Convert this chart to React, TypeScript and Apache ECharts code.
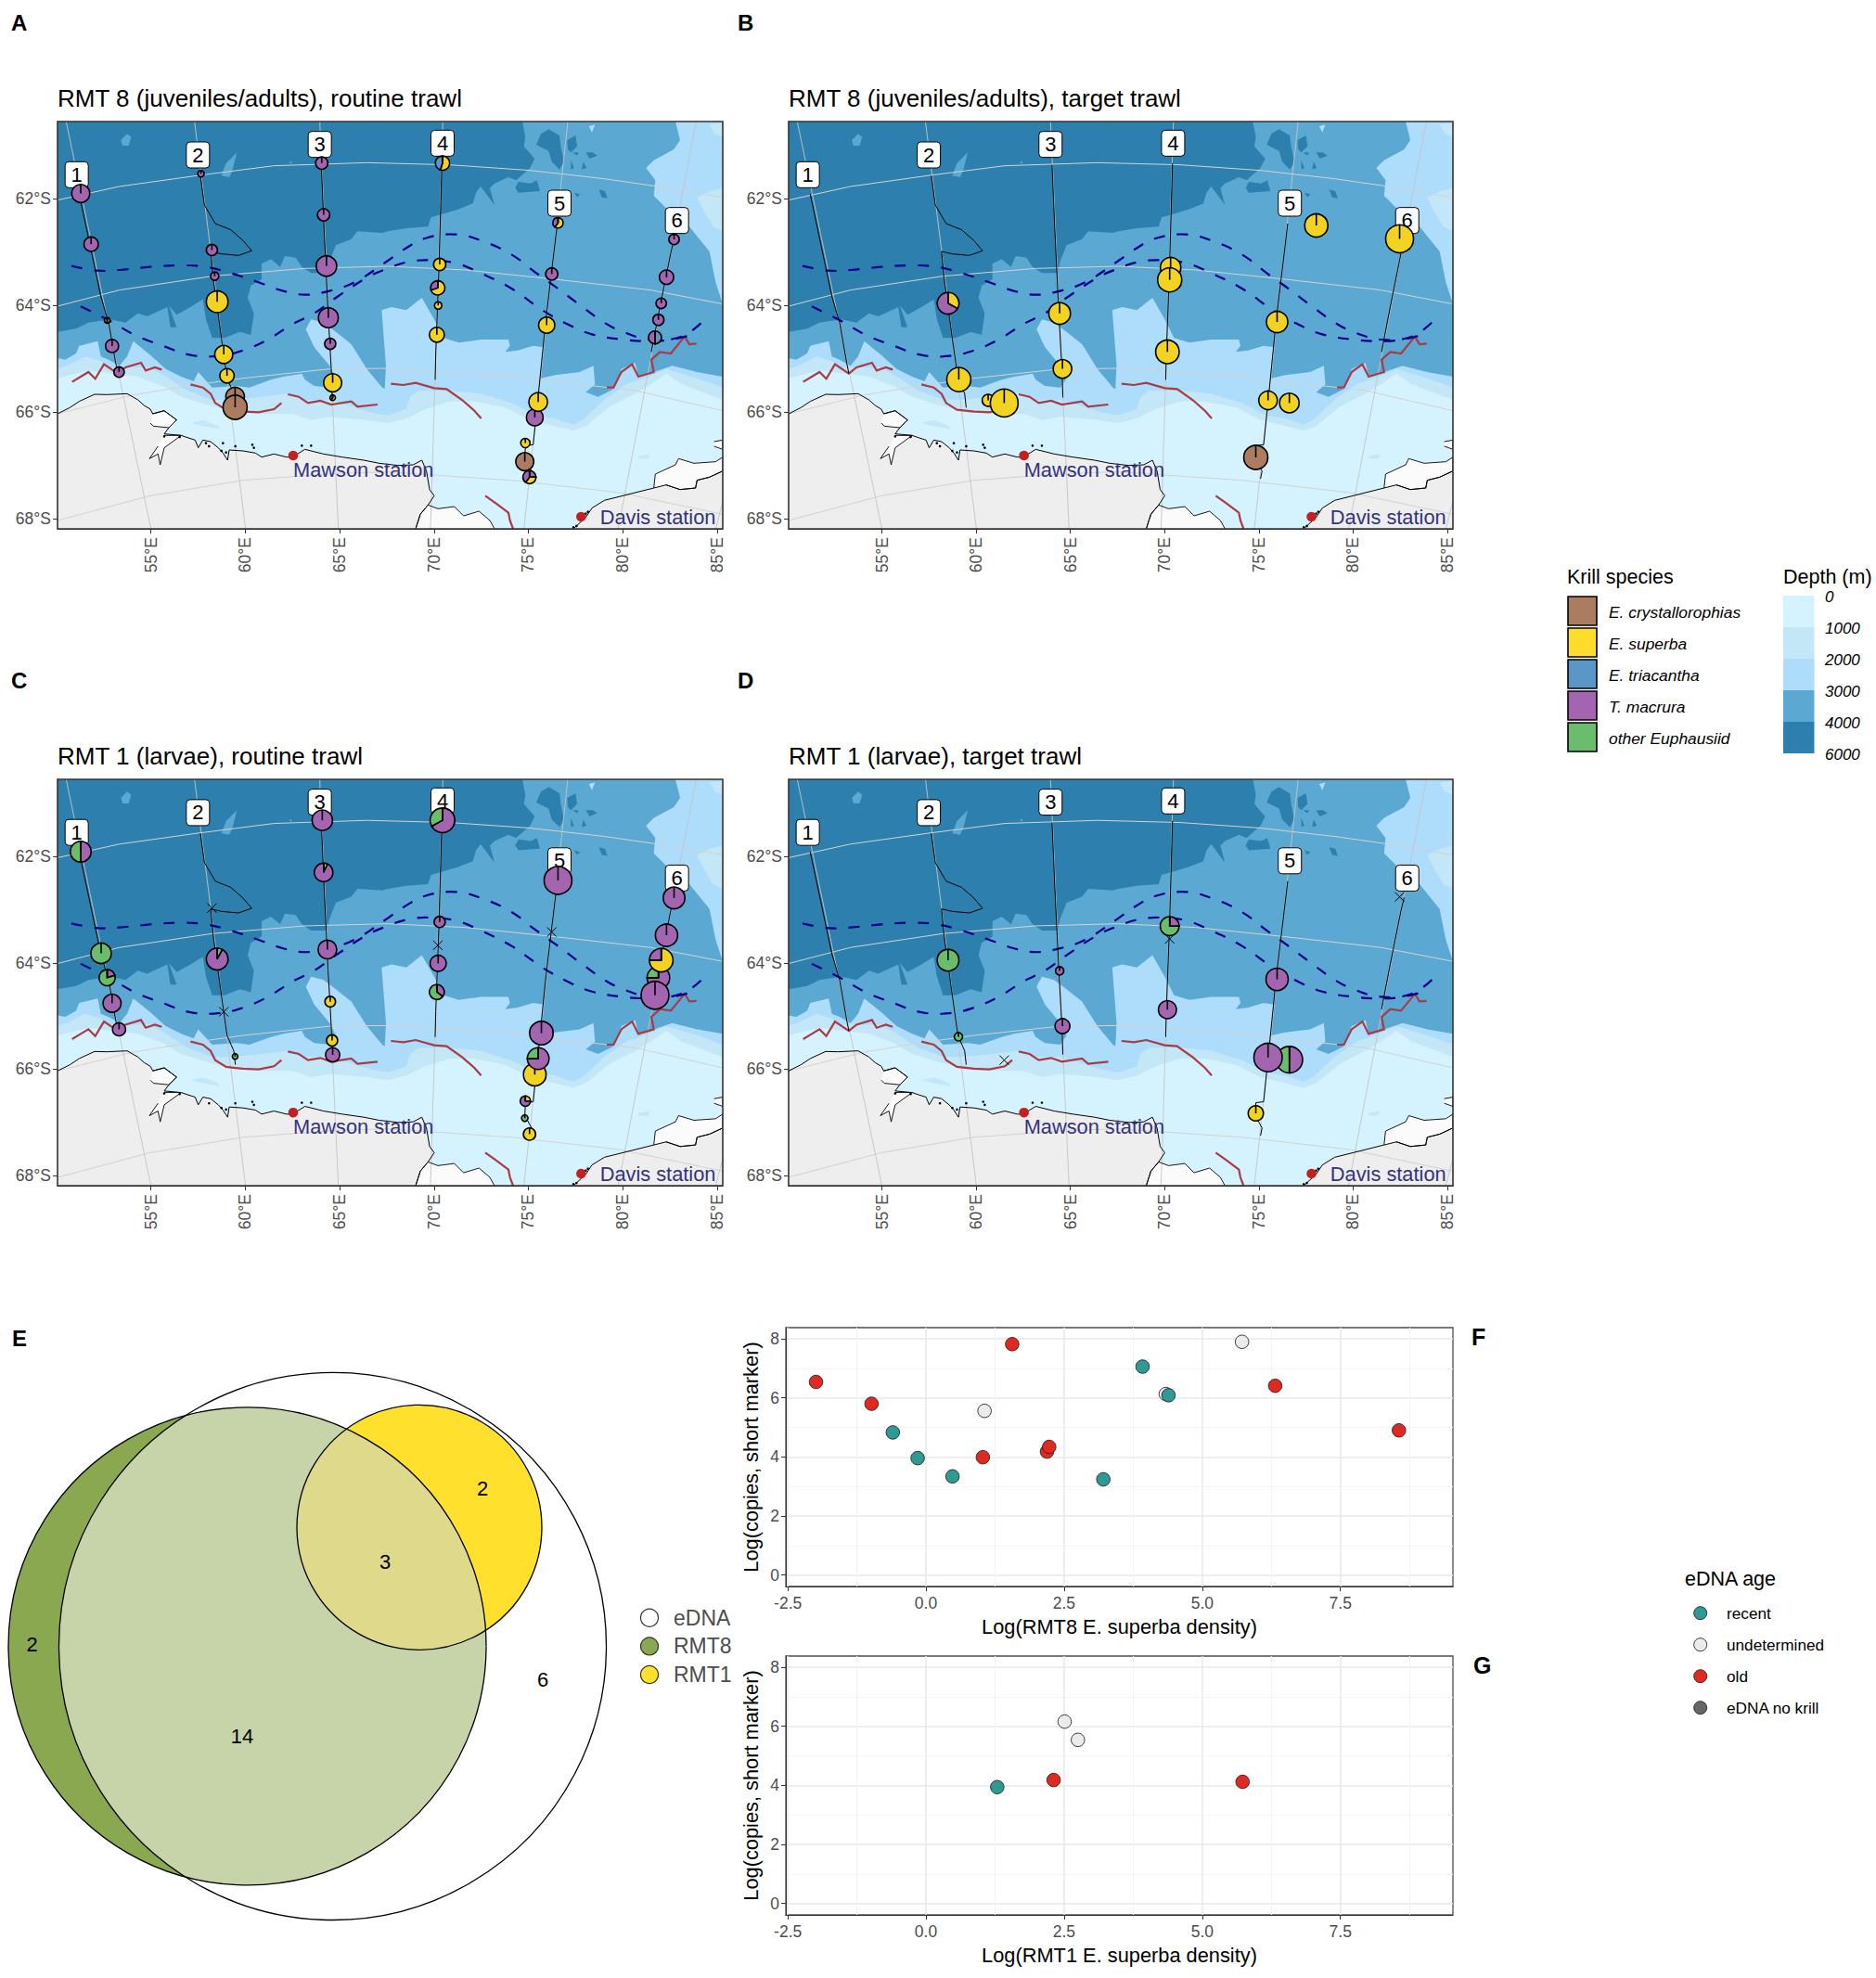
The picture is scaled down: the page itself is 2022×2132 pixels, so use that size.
import { useEffect, useRef } from "react";
import * as echarts from "echarts";

const FONT = "Liberation Sans";

// species codes used in the station tables
const C = 0, S = 1, T = 2, M = 3, O = 4;
const speciesNames = ["E. crystallorophias", "E. superba", "E. triacantha", "T. macrura", "other Euphausiid"];
const speciesColors = ["#ab7c5f", "#f2d321", "#5b96c8", "#a364b0", "#69bd6d"];
const depthLabels = ["0", "1000", "2000", "3000", "4000", "6000"];
const depthColors = ["#d5f2ff", "#c4e7f8", "#aedcfb", "#5ba9d2", "#2d80ae"];

const lonTicks = [55, 60, 65, 70, 75, 80, 85];
const latTicks = [-68, -66, -64, -62];

// stations: lon, lat, marker radius, then species/share pairs clockwise from north
type Station = [number, number, number, ...number[]];

const stationsA: Station[] = [
  [51.28, -61.9, 9.7, M, 1], [51.83, -62.85, 7.7, M, 1], [52.68, -64.28, 3, S, 0.5, M, 0.5], [52.94, -64.76, 7, M, 1], [53.31, -65.25, 5.6, M, 1],
  [57.65, -61.53, 3.5, M, 1], [58.23, -62.96, 6, M, 1], [58.38, -63.45, 4.5, M, 1], [58.51, -63.93, 11.7, S, 1], [58.86, -64.92, 9.7, S, 1], [59.03, -65.32, 7.7, S, 1],
  [59.46, -65.71, 10, C, 1], [59.46, -65.91, 13, C, 1],
  [64.05, -61.33, 6.6, M, 1], [64.15, -62.3, 6.6, M, 1], [64.3, -63.26, 11, M, 1], [64.4, -64.23, 10.7, M, 1], [64.5, -64.72, 6, M, 1], [64.63, -65.45, 9.7, S, 1], [64.63, -65.73, 3, S, 0.6, M, 0.4],
  [70.45, -61.33, 7.7, S, 0.55, T, 0.45], [70.3, -63.23, 6.6, S, 1], [70.2, -63.67, 7.7, S, 0.7, M, 0.3], [70.22, -64, 4, S, 1], [70.15, -64.55, 8, S, 1],
  [76.57, -62.45, 5.6, S, 0.6, M, 0.4], [76.24, -63.41, 6.6, M, 1], [75.97, -64.37, 8.7, S, 1], [75.34, -66.1, 9, M, 1], [75.52, -65.81, 10, S, 1], [74.84, -66.58, 5, S, 1], [74.81, -66.93, 9.7, C, 1], [75.06, -67.22, 7, M, 0.25, S, 0.35, M, 0.4],
  [82.72, -62.76, 5.6, M, 1], [82.32, -63.47, 7.7, M, 1], [82.04, -63.96, 5.6, M, 1], [81.89, -64.27, 6, M, 1], [81.71, -64.6, 7, T, 0.5, M, 0.5],
];

const stationsB: Station[] = [
  [58.51, -63.96, 11.7, S, 0.33, M, 0.67], [59.08, -65.39, 13, S, 1], [60.64, -65.78, 6.5, S, 1], [61.49, -65.83, 15, S, 1],
  [64.43, -64.15, 11.7, S, 1], [64.58, -65.19, 10, S, 1],
  [70.32, -63.29, 11, S, 1], [70.27, -63.52, 13, S, 1], [70.15, -64.87, 12.7, S, 1],
  [75.97, -64.31, 11.5, S, 1], [75.49, -65.78, 10, S, 1], [76.62, -65.83, 10.5, S, 1], [74.84, -66.85, 13, C, 1],
  [78.05, -62.5, 12.5, S, 1], [82.47, -62.75, 15, S, 1],
];

const stationsC: Station[] = [
  [51.28, -61.91, 11.2, M, 0.5, O, 0.5], [52.36, -63.82, 11, O, 1], [52.68, -64.28, 8.7, M, 0.2, O, 0.8], [52.94, -64.76, 9.7, M, 1], [53.31, -65.25, 7, M, 1],
  [58.51, -63.93, 11.7, O, 0.08, M, 0.92], [59.46, -65.76, 3, O, 1],
  [64.08, -61.32, 11, M, 1], [64.15, -62.3, 10, S, 0.07, M, 0.93], [64.35, -63.75, 10, M, 1], [64.5, -64.73, 5.7, S, 1], [64.6, -65.46, 6, S, 1], [64.63, -65.73, 7.6, M, 1],
  [70.45, -61.32, 13.3, M, 0.67, O, 0.33], [70.3, -63.23, 6, M, 1], [70.22, -64.01, 8.7, M, 1], [70.15, -64.55, 8, M, 0.35, O, 0.65],
  [76.57, -62.45, 15, M, 1], [75.69, -65.32, 12.7, M, 1], [75.34, -66.1, 12.2, S, 1], [75.52, -65.8, 11.7, M, 0.75, O, 0.25], [74.84, -66.6, 5.6, S, 0.25, M, 0.75], [74.81, -66.92, 3.5, O, 1], [75.06, -67.22, 6.6, S, 1],
  [82.72, -62.78, 11.7, M, 1], [82.32, -63.48, 12, M, 1], [81.89, -64.28, 12.2, M, 0.75, O, 0.25], [82.04, -63.95, 12.7, S, 0.75, M, 0.25], [81.71, -64.61, 15, M, 1],
];

const stationsD: Station[] = [
  [58.51, -63.95, 11.7, O, 1], [59.06, -65.39, 4.5, O, 1],
  [64.43, -64.15, 4.5, M, 1], [64.58, -65.19, 8, M, 1],
  [70.27, -63.31, 10.2, M, 0.25, O, 0.75], [70.15, -64.88, 9.7, M, 1],
  [75.97, -64.31, 12, M, 1], [76.62, -65.82, 14.3, M, 0.5, O, 0.5], [75.49, -65.78, 15.3, M, 1], [74.84, -66.83, 8.2, S, 1],
];

// empty hauls, drawn as crosses
const crossesC = [[58.23, -62.97], [58.86, -64.92], [70.2, -63.67], [76.24, -63.42]];
const crossesD = [[61.49, -65.83], [70.27, -63.55], [82.47, -62.76]];

// base map, digitised on a 2151 x 1317 plate of the map frame
const deepShelf = [[1503,0],[1513,50],[1508,80],[1543,120],[1528,150],[1483,190],[1458,180],[1413,200],[1398,215],[1413,270],[1398,250],[1368,210],[1353,230],[1343,265],[1293,285],[1208,310],[1198,340],[1128,345],[1068,355],[1050,360],[970,355],[950,380],[900,400],[880,450],[870,490],[820,490],[790,470],[770,440],[735,435],[720,470],[690,445],[660,460],[660,510],[625,530],[615,570],[635,620],[625,690],[590,680],[540,700],[500,700],[480,640],[470,575],[430,600],[385,625],[360,595],[385,665],[365,665],[355,600],[290,630],[260,620],[220,650],[170,640],[100,650],[60,670],[0,680],[0,1317],[2151,1317],[2151,0]];
const deepIslands = [
  [[1563,40],[1588,25],[1623,45],[1628,85],[1638,130],[1623,155],[1598,130],[1588,95],[1548,75]],
  [[1648,60],[1675,45],[1680,80],[1660,100],[1650,90]],
  [[1665,100],[1685,100],[1680,110]],
  [[1700,130],[1710,150],[1695,155]],
  [[1660,125],[1670,150],[1660,155]],
  [[1708,100],[1730,100],[1745,110],[1720,120]],
  [[1490,195],[1530,200],[1550,190],[1560,225],[1490,230],[1480,215]],
  [[1750,220],[1770,225],[1778,248],[1760,245]],
  [[1670,230],[1690,235],[1680,245]],
];
const midIslands = [
  [[205,60],[225,40],[238,50],[230,78],[210,78]],
  [[530,175],[545,135],[580,100],[565,160],[555,180]],
  [[748,130],[758,130],[755,138]],
];
const slopeMain = [[0,765],[25,770],[60,750],[70,725],[130,710],[140,760],[165,770],[200,790],[225,760],[245,710],[300,755],[350,800],[400,825],[440,840],[455,810],[500,860],[580,855],[620,860],[690,835],[730,825],[790,815],[800,835],[830,855],[880,860],[900,830],[880,790],[830,730],[803,672],[820,640],[860,650],[900,680],[950,720],[1000,800],[1050,860],[1058,865],[1062,790],[1048,610],[1080,600],[1128,610],[1178,570],[1218,640],[1248,700],[1298,715],[1368,705],[1458,705],[1463,725],[1448,745],[1488,740],[1538,725],[1573,730],[1563,830],[1608,820],[1688,810],[1733,790],[1738,850],[1708,875],[1748,890],[1798,865],[1823,800],[1868,780],[1878,825],[1928,810],[1988,790],[2068,810],[2151,825],[2151,1317],[0,1317]];
const slopeCorner = [[1998,0],[2013,60],[1993,90],[1928,125],[1903,150],[1933,190],[1928,240],[1968,280],[2043,340],[2108,420],[2128,520],[2151,590],[2151,0]];
const slopeIsland = [[1718,15],[1738,10],[1728,35]];
const shelfOuter = [[0,800],[40,785],[90,760],[140,775],[170,795],[300,795],[350,825],[420,870],[500,900],[560,900],[660,890],[740,880],[800,900],[880,900],[950,920],[1010,940],[1068,950],[1128,930],[1140,890],[1168,870],[1268,870],[1368,880],[1468,910],[1548,950],[1608,960],[1668,980],[1698,965],[1768,900],[1838,850],[1898,830],[1968,800],[2068,830],[2151,860],[2151,1317],[0,1317]];
const shelfOuterPatches = [
  [[2068,245],[2110,225],[2151,215],[2151,355],[2120,340],[2090,290]],
  [[2108,10],[2151,5],[2151,50],[2125,40]],
  [[430,975],[470,965],[520,985],[525,995],[470,985]],
  [[1878,1082],[1915,1075],[1910,1090],[1880,1090]],
];
const shelfInner = [[0,830],[100,805],[180,815],[260,825],[340,855],[400,890],[480,915],[560,935],[660,945],[760,945],[820,965],[880,955],[1000,965],[1068,975],[1128,960],[1188,930],[1268,905],[1348,905],[1448,925],[1528,965],[1608,985],[1668,1000],[1708,985],[1788,920],[1868,880],[1918,850],[1968,815],[2018,850],[2151,900],[2151,1317],[0,1317]];

const coastWest = [[0,945],[40,925],[70,905],[120,882],[160,883],[225,880],[260,900],[280,918],[300,930],[308,945],[345,935],[385,965],[360,990],[345,1010],[400,1015],[420,1022],[445,1030],[455,1055],[470,1030],[495,1035],[520,1055],[535,1072],[550,1095],[555,1062],[600,1065],[640,1072],[660,1085],[700,1075],[740,1085],[760,1085],[800,1060],[860,1075],[920,1085],[990,1095],[1040,1105],[1100,1112],[1150,1110],[1178,1095],[1193,1130],[1203,1190],[1218,1210],[1198,1240],[1173,1270],[1158,1317]];
const coastEast = [[1668,1317],[1708,1280],[1728,1250],[1768,1225],[1848,1205],[1928,1185],[1968,1175],[2013,1190],[2063,1185],[2068,1160],[2108,1150],[2151,1130]];
const iceShelves = [
  [[308,945],[345,935],[385,965],[360,990],[310,985],[300,975]],
  [[345,1015],[400,1015],[345,1055],[332,1110],[325,1075],[297,1090],[325,1050]],
  [[1158,1317],[1173,1270],[1198,1240],[1230,1252],[1283,1245],[1313,1275],[1363,1260],[1398,1290],[1413,1317]],
  [[1928,1185],[1933,1140],[1998,1110],[2008,1090],[2058,1105],[2128,1100],[2151,1085],[2151,1130],[2108,1150],[2068,1160],[2063,1185],[2013,1190],[1968,1175]],
  [[2123,1035],[2151,1030],[2151,1060],[2123,1050]],
];
const islets = [[535,1040],[575,1050],[630,1045],[635,1055],[790,1048],[820,1048],[395,1020],[345,1018],[530,1065],[545,1070],[480,1040],[490,1050],[1708,1268],[1715,1262],[1668,1312],[1678,1308]];

const fronts = [
  [[47,842],[75,825],[100,810],[122,832],[150,785],[195,815],[220,795],[270,780],[285,805],[315,795],[337,802]],
  [[430,850],[470,860],[495,880],[510,910],[545,932],[600,938],[650,940],[700,930],[724,910]],
  [[745,882],[780,890],[810,910],[850,903],[885,915],[950,905],[970,922],[1035,915]],
  [[1078,848],[1118,852],[1158,845],[1218,862],[1258,865],[1308,900],[1348,935],[1370,960]],
  [[1776,860],[1798,860],[1823,810],[1858,785],[1878,825],[1928,810],[1920,770],[1948,745],[1983,750],[2028,695],[2043,720],[2066,718]],
  [[1383,1210],[1418,1235],[1458,1265],[1463,1290],[1473,1317]],
];
const jetUpper = [[45,467],[130,482],[200,480],[300,470],[400,465],[480,470],[560,490],[650,520],[730,548],[800,560],[870,550],[960,520],[1068,450],[1118,415],[1188,378],[1288,365],[1378,388],[1468,430],[1548,490],[1618,540],[1698,600],[1768,650],[1828,680],[1918,705],[2018,695],[2088,645]];
const jetLower = [[75,598],[170,645],[250,690],[340,725],[430,755],[520,758],[600,740],[680,705],[760,655],[830,620],[900,570],[1000,505],[1068,475],[1128,455],[1198,448],[1288,458],[1368,490],[1468,540],[1568,610],[1648,655],[1728,688],[1828,705],[1918,710],[1988,705],[2068,685]];

const parallels = [
  [[0,254],[200,210],[450,175],[700,143],[1000,133],[1268,140],[1528,158],[1768,185],[1928,208],[2151,245]],
  [[0,597],[200,545],[500,500],[800,475],[1068,468],[1318,480],[1608,510],[1918,545],[2151,590]],
  [[0,945],[240,885],[420,855],[600,830],[880,800],[1068,798],[1468,825],[1868,870],[2151,935]],
  [[0,1290],[300,1210],[600,1160],[900,1138],[1068,1133],[1468,1160],[1818,1200],[2151,1270]],
];
const meridians = [
  [[28,0],[302,1317]], [[443,0],[608,1317]], [[848,0],[908,1317]], [[1246,0],[1206,1317]],
  [[1650,0],[1508,1317]], [[2065,0],[1813,1317]], [[2151,1229],[2128,1317]],
];

// trawl transects
const transects = [
  [[70,235],[105,400],[140,565],[165,650],[190,790],[195,815]],
  [[462,175],[475,270],[510,330],[560,350],[600,385],[628,418],[585,433],[530,428],[495,420],[505,520],[515,590],[530,700],[548,830],[570,880],[575,925]],
  [[853,140],[862,350],[875,620],[885,800],[888,892]],
  [[1243,135],[1233,480],[1223,750],[1221,835]],
  [[1616,330],[1578,650],[1553,900],[1538,1045],[1513,1048],[1511,1090],[1533,1130],[1528,1155]],
  [[1993,383],[1983,425],[1948,600],[1920,745]],
];
const transectLabels = [[62,172],[454,108],[848,74],[1245,70],[1623,264],[2003,320]];
const stationNames = ["Mawson station", "Davis station"];
const stationDots = [[762,1080],[1693,1278]];
const stationTextAt = [[762,1125],[1754,1280]];

// scatter panels: density, copies
const scatterF = {
  recent: [[-0.6, 4.83], [-0.15, 3.96], [0.48, 3.34], [3.21, 3.24], [3.92, 7.06], [4.39, 6.09]],
  undetermined: [[1.06, 5.56], [4.34, 6.13], [5.72, 7.9]],
  old: [[-1.99, 6.54], [-0.985, 5.8], [1.56, 7.82], [1.03, 3.99], [2.19, 4.18], [2.23, 4.34], [6.32, 6.41], [8.56, 4.9]],
};
const scatterG = {
  recent: [[1.29, 3.94]],
  undetermined: [[2.51, 6.16], [2.75, 5.54]],
  old: [[2.31, 4.18], [5.73, 4.12]],
};
const ageNames = ["recent", "undetermined", "old", "eDNA no krill"];
const ageColors = ["#2e9a94", "#ebebeb", "#e12a1f", "#666666"];

// venn: centre x, centre y, radius
const vennEdna = [358.5, 374.5, 295];
const vennRmt8 = [266.5, 374.4, 257.5];
const vennRmt1 = [452, 246.3, 132];
const vennCounts = [[34.7, 372.8, "2"], [261, 471, "14"], [415, 283.5, "3"], [520, 204, "2"], [585, 410.7, "6"]];
const vennNames = ["eDNA", "RMT8", "RMT1"];
const vennColors = ["#ffffff", "#8aa850", "#ffe02d"];

const LON0 = 50.05, LON1 = 85.3, LAT0 = -60.55, LAT1 = -68.19;
const toGeo = ([u, v]: number[]) => [LON0 + (u / 2151) * (LON1 - LON0), LAT0 + (v / 1317) * (LAT1 - LAT0)];

function baseMapItem(_: any, api: any) {
  const pts = (list: number[][]) => list.map((p) => api.coord(toGeo(p)));
  const fill = (list: number[][], color: string) => ({ type: "polygon", silent: true, shape: { points: pts(list) }, style: { fill: color } });
  const line = (list: number[][], stroke: string, lineWidth: number, extra: any = {}, smooth = 0) => ({
    type: "polyline", silent: true, shape: { points: pts(list), smooth }, style: { fill: null, stroke, lineWidth, ...extra },
  });
  const frame = [[0,0],[2151,0],[2151,1317],[0,1317]];
  return {
    type: "group",
    children: [
      fill(frame, depthColors[4]),
      fill(deepShelf, depthColors[3]),
      ...deepIslands.map((d) => fill(d, depthColors[4])),
      ...midIslands.map((d) => fill(d, depthColors[3])),
      fill(slopeMain, depthColors[2]),
      fill(slopeCorner, depthColors[2]),
      fill(slopeIsland, depthColors[2]),
      fill(shelfOuter, depthColors[1]),
      fill(shelfInner, depthColors[0]),
      ...shelfOuterPatches.map((d) => fill(d, depthColors[1])),
      fill([...coastWest, [0,1317]], "#eeeeee"),
      fill([...coastEast, [2151,1317]], "#eeeeee"),
      ...iceShelves.map((d) => fill(d, "#fbfbfb")),
      ...parallels.map((d) => line(d, "#d2d2d2", 1)),
      ...meridians.map((d) => line(d, "#c4c4c4", 0.9)),
      line(coastWest, "#000", 1),
      line(coastEast, "#000", 1),
      ...iceShelves.map((d) => line(d, "#000", 0.9)),
      ...islets.map((p) => {
        const [cx, cy] = api.coord(toGeo(p));
        return { type: "circle", silent: true, shape: { cx, cy, r: 1.3 }, style: { fill: "#000" } };
      }),
      ...fronts.map((d) => line(d, "#a83b43", 2.2)),
      line(jetUpper, "#00008b", 2.2, { lineDash: [12, 13] }, 0.4),
      line(jetLower, "#00008b", 2.2, { lineDash: [12, 13] }, 0.4),
      ...transects.map((d) => line(d, "#000", 1)),
    ],
  };
}

function labelsItem(params: any, api: any) {
  const box = params.coordSys;
  const children: any[] = [];
  transectLabels.forEach((p, i) => {
    const [x, y] = api.coord(toGeo(p));
    children.push({ type: "rect", silent: true, shape: { x: x - 12.5, y: y - 14, width: 25, height: 28, r: 4 }, style: { fill: "#fff", stroke: "#000", lineWidth: 1 } });
    children.push({ type: "text", silent: true, style: { text: String(i + 1), x, y, align: "center", verticalAlign: "middle", fontSize: 22, fontFamily: FONT, fill: "#000" } });
  });
  stationDots.forEach((p) => {
    const [cx, cy] = api.coord(toGeo(p));
    children.push({ type: "circle", silent: true, shape: { cx, cy, r: 5.3 }, style: { fill: "#c4201f" } });
  });
  stationTextAt.forEach((p, i) => {
    const [x, y] = api.coord(toGeo(p));
    children.push({ type: "text", silent: true, style: { text: stationNames[i], x, y, align: "left", verticalAlign: "middle", fontSize: 21.8, fontFamily: FONT, fill: "#33337f" } });
  });
  children.push({ type: "rect", silent: true, shape: { x: box.x, y: box.y, width: box.width, height: box.height }, style: { fill: null, stroke: "#333", lineWidth: 1.6 } });
  return { type: "group", children };
}

function pieItem(list: Station[]) {
  return (params: any, api: any) => {
    const row = list[params.dataIndex];
    const [cx, cy] = api.coord([row[0], row[1]]);
    const r = row[2];
    const children: any[] = [];
    let start = -Math.PI / 2;
    for (let i = 3; i < row.length; i += 2) {
      const share = row[i + 1];
      const style = { fill: speciesColors[row[i]], stroke: "#000", lineWidth: 1.6 };
      if (share >= 1) {
        children.push({ type: "circle", silent: true, shape: { cx, cy, r }, style });
      } else {
        const end = start + share * 2 * Math.PI;
        children.push({ type: "sector", silent: true, shape: { cx, cy, r, r0: 0, startAngle: start, endAngle: end, clockwise: true }, style });
        start = end;
      }
    }
    children.push({ type: "line", silent: true, shape: { x1: cx, y1: cy, x2: cx, y2: cy - r }, style: { stroke: "#000", lineWidth: 1.6 } });
    return { type: "group", children };
  };
}

function crossItem(_: any, api: any) {
  const [x, y] = api.coord([api.value(0), api.value(1)]);
  const s = 5;
  return {
    type: "group",
    children: [
      { type: "line", silent: true, shape: { x1: x - s, y1: y - s, x2: x + s, y2: y + s }, style: { stroke: "#000", lineWidth: 1 } },
      { type: "line", silent: true, shape: { x1: x - s, y1: y + s, x2: x + s, y2: y - s }, style: { stroke: "#000", lineWidth: 1 } },
    ],
  };
}

// points bounding the overlap of two circles, in order round the overlap
function lens(a: number[], b: number[]) {
  const out: number[][] = [];
  const walk = (p: number[], q: number[]) => {
    for (let i = 0; i < 720; i++) {
      const t = (i / 720) * 2 * Math.PI;
      const x = p[0] + p[2] * Math.cos(t);
      const y = p[1] + p[2] * Math.sin(t);
      if (Math.hypot(x - q[0], y - q[1]) <= q[2]) out.push([x, y]);
    }
  };
  walk(a, b);
  walk(b, a);
  const mx = out.reduce((s, p) => s + p[0], 0) / out.length;
  const my = out.reduce((s, p) => s + p[1], 0) / out.length;
  return out.sort((p, q) => Math.atan2(p[1] - my, p[0] - mx) - Math.atan2(q[1] - my, q[0] - mx));
}

function vennItem(_: any, api: any) {
  const circle = (c: number[], style: any) => {
    const [cx, cy] = api.coord([c[0], c[1]]);
    return { type: "circle", silent: true, shape: { cx, cy, r: api.size([c[2], 0])[0] }, style };
  };
  const area = (list: number[][], color: string) => ({
    type: "polygon", silent: true, shape: { points: list.map((p) => api.coord(p)) }, style: { fill: color },
  });
  const edge = { fill: null, stroke: "#000", lineWidth: 1.3 };
  return {
    type: "group",
    children: [
      circle(vennRmt1, { fill: vennColors[2] }),
      circle(vennRmt8, { fill: vennColors[1] }),
      area(lens(vennRmt8, vennEdna), "#c7d4a9"),
      area(lens(vennRmt8, vennRmt1), "#dfd98c"),
      circle(vennEdna, edge),
      circle(vennRmt8, edge),
      circle(vennRmt1, edge),
      ...vennCounts.map((n) => {
        const [x, y] = api.coord([n[0], n[1]]);
        return { type: "text", silent: true, style: { text: String(n[2]), x, y, align: "center", verticalAlign: "middle", fontSize: 22, fontFamily: FONT, fill: "#000" } };
      }),
    ],
  };
}

function App() {
  const ref = useRef<HTMLDivElement>(null);

  useEffect(() => {
    if (!ref.current) return;
    const chart = echarts.init(ref.current, undefined, { renderer: "svg" });

    const grids: any[] = [];
    const xAxes: any[] = [];
    const yAxes: any[] = [];
    const series: any[] = [];
    const graphics: any[] = [];

    const tickLabel = { color: "#4d4d4d", fontSize: 17.5, fontFamily: FONT };
    const text = (t: string, x: number, y: number, fontSize: number, extra: any = {}) =>
      graphics.push({ type: "text", silent: true, style: { text: t, x, y, fontSize, fontFamily: FONT, fill: "#000", align: "left", verticalAlign: "middle", ...extra } });

    // map panels
    const maps = [
      { letter: "A", title: "RMT 8 (juveniles/adults), routine trawl", left: 62, top: 131, width: 717, height: 439, stations: stationsA, crosses: [] as number[][] },
      { letter: "B", title: "RMT 8 (juveniles/adults), target trawl", left: 850, top: 131, width: 716, height: 439, stations: stationsB, crosses: [] as number[][] },
      { letter: "C", title: "RMT 1 (larvae), routine trawl", left: 62, top: 840, width: 717, height: 438, stations: stationsC, crosses: crossesC },
      { letter: "D", title: "RMT 1 (larvae), target trawl", left: 850, top: 840, width: 716, height: 438, stations: stationsD, crosses: crossesD },
    ];
    maps.forEach((m, i) => {
      grids.push({ left: m.left, top: m.top, width: m.width, height: m.height });
      xAxes.push({
        gridIndex: i, type: "value", min: LON0, max: LON1, splitLine: { show: false },
        axisLine: { show: true, onZero: false, lineStyle: { color: "#333" } },
        axisTick: { length: 5, lineStyle: { color: "#333" }, customValues: lonTicks },
        axisLabel: { ...tickLabel, rotate: 90, margin: 9, customValues: lonTicks, formatter: (v: number) => `${v}°E` },
      });
      yAxes.push({
        gridIndex: i, type: "value", min: LAT1, max: LAT0, splitLine: { show: false },
        axisLine: { show: true, onZero: false, lineStyle: { color: "#333" } },
        axisTick: { length: 5, lineStyle: { color: "#333" }, customValues: latTicks },
        axisLabel: { ...tickLabel, margin: 7, customValues: latTicks, formatter: (v: number) => `${-v}°S` },
      });
      const on = { coordinateSystem: "cartesian2d", xAxisIndex: i, yAxisIndex: i };
      series.push({ ...on, type: "custom", clip: true, z: 2, data: [[60, -62]], renderItem: baseMapItem });
      series.push({ ...on, type: "custom", clip: false, z: 3, data: [[60, -62]], renderItem: labelsItem });
      if (m.crosses.length) series.push({ ...on, type: "custom", z: 4, data: m.crosses, renderItem: crossItem });
      series.push({ ...on, type: "custom", clip: false, z: 5, data: m.stations.map((s) => [s[0], s[1]]), renderItem: pieItem(m.stations) });
      text(m.title, m.left, m.top - 25, 26);
      text(m.letter, i % 2 ? 795 : 12, m.top - 107, 24, { fontWeight: "bold" });
    });

    // venn panel
    grids.push({ left: 0, top: 1400, width: 800, height: 700 });
    xAxes.push({ gridIndex: 4, type: "value", min: 0, max: 800, show: false });
    yAxes.push({ gridIndex: 4, type: "value", min: 0, max: 700, inverse: true, show: false });
    series.push({ type: "custom", coordinateSystem: "cartesian2d", xAxisIndex: 4, yAxisIndex: 4, z: 2, clip: false, data: [[0, 0]], renderItem: vennItem });
    text("E", 13, 1442, 24, { fontWeight: "bold" });
    vennNames.forEach((n, i) => {
      const y = 1743.8 + i * 30.6;
      graphics.push({ type: "circle", silent: true, shape: { cx: 700, cy: y, r: 9.5 }, style: { fill: vennColors[i], stroke: "#333", lineWidth: 1.2 } });
      text(n, 726, y, 23, { fill: "#4d4d4d" });
    });

    // scatter panels: each gets a second, hidden axis pair for the minor grid
    const xMajor = [-2.5, 0, 2.5, 5, 7.5];
    const xMinor = [-1.25, 1.25, 3.75, 6.25, 8.75];
    const yMajor = [0, 2, 4, 6, 8];
    const yMinor = [1, 3, 5, 7];
    const XMIN = -2.536, XMAX = 9.537, YMIN = -0.39, YMAX = 8.38;
    const scatters = [
      { top: 1431, name: "Log(RMT8 E. superba density)", data: scatterF },
      { top: 1785, name: "Log(RMT1 E. superba density)", data: scatterG },
    ];
    scatters.forEach((p, k) => {
      grids.push({ left: 847, top: p.top, width: 719, height: 279, show: true, borderColor: "#4d4d4d", borderWidth: 1.3 });
      const g = 5 + k;
      xAxes.push({
        gridIndex: g, type: "value", min: XMIN, max: XMAX, name: p.name, nameLocation: "middle", nameGap: 32,
        nameTextStyle: { fontSize: 21.8, color: "#000", fontFamily: FONT },
        axisLine: { show: true, onZero: false, lineStyle: { color: "#333" } },
        axisTick: { length: 5, lineStyle: { color: "#333" }, customValues: xMajor },
        axisLabel: { ...tickLabel, margin: 9, customValues: xMajor, formatter: (v: number) => v.toFixed(1) },
        splitLine: { show: true, lineStyle: { color: "#e9e9e9", width: 1.5 } },
      });
      yAxes.push({
        gridIndex: g, type: "value", min: YMIN, max: YMAX, name: "Log(copies, short marker)", nameLocation: "middle", nameGap: 27,
        nameTextStyle: { fontSize: 21.8, color: "#000", fontFamily: FONT },
        axisLine: { show: true, onZero: false, lineStyle: { color: "#333" } },
        axisTick: { length: 5, lineStyle: { color: "#333" }, customValues: yMajor },
        axisLabel: { ...tickLabel, margin: 7, customValues: yMajor },
        splitLine: { show: true, lineStyle: { color: "#e9e9e9", width: 1.5 } },
      });
      ["undetermined", "recent", "old"].forEach((age) => {
        series.push({
          type: "scatter", name: age, xAxisIndex: xAxes.length - 1, yAxisIndex: yAxes.length - 1, z: 4,
          symbolSize: 14.5, data: (p.data as any)[age],
          itemStyle: { color: ageColors[ageNames.indexOf(age)], borderColor: "#222", borderWidth: 0.9, opacity: 1 },
        });
      });
    });
    scatters.forEach((p, k) => {
      const g = 5 + k;
      xAxes.push({
        gridIndex: g, type: "value", min: XMIN, max: XMAX, position: "top", axisLine: { show: false },
        axisTick: { show: false, customValues: xMinor }, axisLabel: { show: false, customValues: xMinor },
        splitLine: { show: true, lineStyle: { color: "#f3f3f3", width: 1 } },
      });
      yAxes.push({
        gridIndex: g, type: "value", min: YMIN, max: YMAX, position: "right", axisLine: { show: false },
        axisTick: { show: false, customValues: yMinor }, axisLabel: { show: false, customValues: yMinor },
        splitLine: { show: true, lineStyle: { color: "#f3f3f3", width: 1 } },
      });
    });
    text("F", 1586, 1441, 25, { fontWeight: "bold" });
    text("G", 1588, 1795, 25, { fontWeight: "bold" });

    // krill legend
    text("Krill species", 1689, 622, 21.5);
    speciesNames.forEach((n, i) => {
      const y = 643 + i * 34;
      graphics.push({ type: "rect", silent: true, shape: { x: 1690, y, width: 31, height: 31 }, style: { fill: speciesColors[i] === "#f2d321" ? "#ffdd2c" : speciesColors[i], stroke: "#000", lineWidth: 1.6 } });
      text(n, 1734, y + 16.5, 17.4, { fontStyle: "italic" });
    });

    // depth legend
    text("Depth (m)", 1922, 622, 21.5);
    depthColors.forEach((c, i) => {
      graphics.push({ type: "rect", silent: true, shape: { x: 1922, y: 642 + i * 34, width: 33.5, height: 34 }, style: { fill: c } });
    });
    depthLabels.forEach((n, i) => text(n, 1967, 643 + i * 34, 17, { fontStyle: "italic" }));

    // eDNA age legend
    text("eDNA age", 1816, 1702, 21.5);
    ageNames.forEach((n, i) => {
      const y = 1738.7 + i * 34;
      graphics.push({ type: "circle", silent: true, shape: { cx: 1832.7, cy: y, r: 7 }, style: { fill: ageColors[i], stroke: "#222", lineWidth: 0.9 } });
      text(n, 1861, y, 17.2);
    });

    chart.setOption({
      animation: false,
      backgroundColor: "#fff",
      textStyle: { fontFamily: FONT },
      grid: grids,
      xAxis: xAxes,
      yAxis: yAxes,
      series,
      graphic: { elements: graphics },
    });

    return () => chart.dispose();
  }, []);

  return <div ref={ref} style={{ position: "absolute", left: 0, top: 0, width: 2022, height: 2132 }} />;
}

export default App;
